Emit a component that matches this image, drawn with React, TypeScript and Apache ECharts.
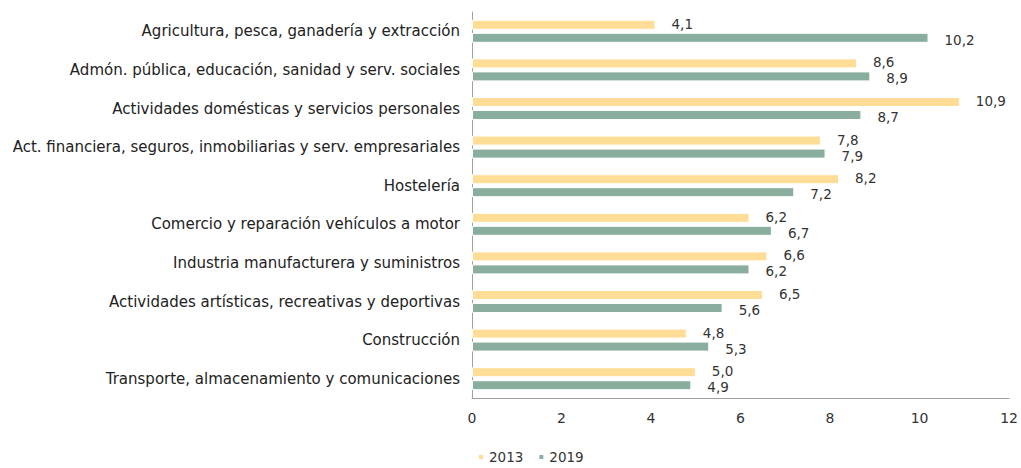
import React, { useEffect, useRef } from "react";
import * as echarts from "echarts";

const categories = [
  "Agricultura, pesca, ganadería y extracción",
  "Admón. pública, educación, sanidad y serv. sociales",
  "Actividades domésticas y servicios personales",
  "Act. financiera, seguros, inmobiliarias y serv. empresariales",
  "Hostelería",
  "Comercio y reparación vehículos a motor",
  "Industria manufacturera y suministros",
  "Actividades artísticas, recreativas y deportivas",
  "Construcción",
  "Transporte, almacenamiento y comunicaciones",
];
const values2013 = [4.1, 8.6, 10.9, 7.8, 8.2, 6.2, 6.6, 6.5, 4.8, 5.0];
const values2019 = [10.2, 8.9, 8.7, 7.9, 7.2, 6.7, 6.2, 5.6, 5.3, 4.9];
const seriesNames = ["2013", "2019"];

const FONT = "DejaVu Sans";
const fmt = (p: any) => Number(p.value).toFixed(1).replace(".", ",");

export default function App() {
  const ref = useRef<HTMLDivElement>(null);
  useEffect(() => {
    if (!ref.current) return;
    const chart = echarts.init(ref.current, undefined, { renderer: "svg" });
    chart.setOption({
      animation: false,
      textStyle: { fontFamily: FONT },
      grid: { left: 472, right: 9, top: 12, bottom: 70, containLabel: false },
      legend: {
        data: seriesNames,
        left: 472,
        top: 445,
        itemWidth: 6,
        itemHeight: 6,
        itemGap: 14,
        icon: "rect",
        textStyle: { fontFamily: FONT, fontSize: 13.5, color: "#333" },
      },
      xAxis: {
        type: "value",
        min: 0,
        max: 12,
        interval: 2,
        axisLine: { show: true, lineStyle: { color: "#a0a0a0" } },
        axisTick: { show: false },
        splitLine: { show: false },
        axisLabel: { fontFamily: FONT, fontSize: 14, color: "#333", margin: 13 },
      },
      yAxis: {
        type: "category",
        inverse: true,
        data: categories,
        axisLine: { show: true, lineStyle: { color: "#a0a0a0" } },
        axisTick: { show: false },
        axisLabel: { fontFamily: FONT, fontSize: 15, color: "#222", margin: 12 },
      },
      series: [
        {
          name: seriesNames[0],
          type: "bar",
          data: values2013,
          barWidth: 10,
          barGap: "30%",
          itemStyle: { color: "#FFDD96", borderColor: "#fff", borderWidth: 1 },
          label: {
            show: true,
            position: "right",
            distance: 16,
            offset: [0, -1],
            formatter: fmt,
            fontFamily: FONT,
            fontSize: 13.5,
            color: "#333",
          },
        },
        {
          name: seriesNames[1],
          type: "bar",
          data: values2019,
          barWidth: 10,
          barGap: "30%",
          itemStyle: { color: "#8AAE9D", borderColor: "#fff", borderWidth: 1 },
          label: {
            show: true,
            position: "right",
            distance: 16,
            offset: [0, 2],
            formatter: fmt,
            fontFamily: FONT,
            fontSize: 13.5,
            color: "#333",
          },
        },
      ],
    });
    return () => chart.dispose();
  }, []);
  return (
    <div
      ref={ref}
      style={{ position: "fixed", left: 0, top: 0, width: 1021, height: 468, background: "#fff" }}
    />
  );
}
